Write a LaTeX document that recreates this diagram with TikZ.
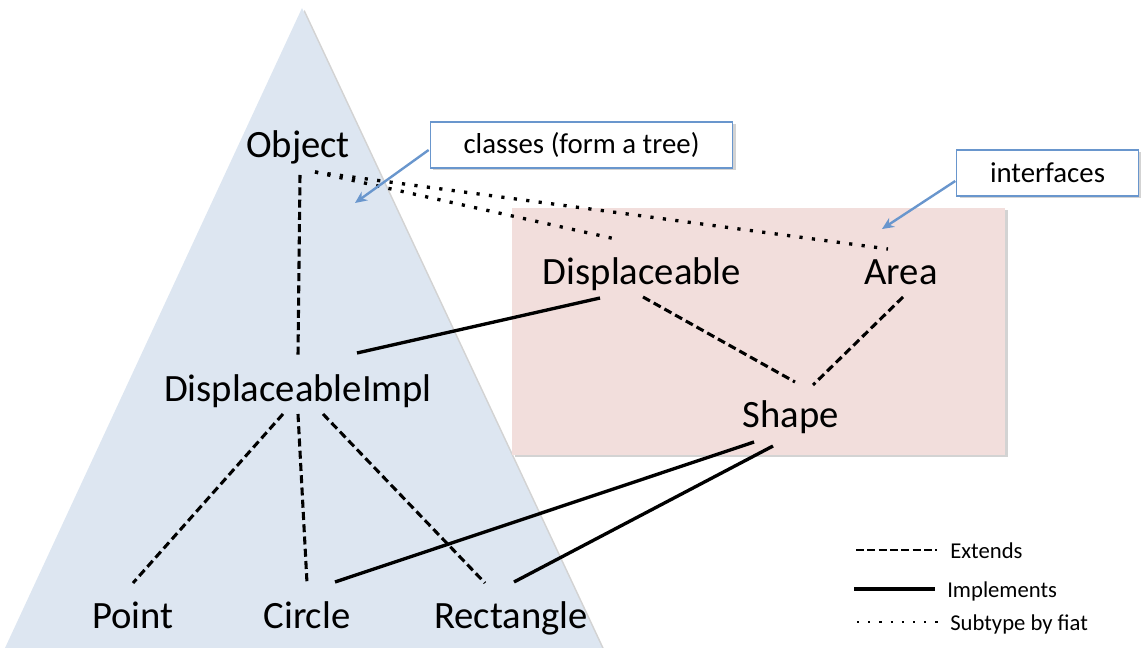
\documentclass[tikz,border=0pt]{standalone}
\usepackage{fontspec}
\setmainfont{Carlito}
\usetikzlibrary{shadows,calc,arrows.meta}
\definecolor{triblue}{RGB}{221,230,241}
\definecolor{pinkbg}{RGB}{242,222,220}
\definecolor{callblue}{RGB}{105,150,205}
\begin{document}
\begin{tikzpicture}[x=0.75pt,y=-0.75pt,
  lbl/.style={font=\fontsize{29}{33}\selectfont, inner sep=0pt, anchor=base},
  leg/.style={font=\fontsize{17}{20}\selectfont, inner sep=0pt, anchor=base west},
  ext/.style={line width=2.3pt, dash pattern=on 6pt off 3.2pt},
  impl/.style={line width=2.5pt},
  fiat/.style={line width=2.5pt, dash pattern=on 2.4pt off 7pt},
  shad/.style={drop shadow={shadow xshift=2pt, shadow yshift=-1.5pt, opacity=0.35}},
  callout/.style={draw=callblue, fill=white, line width=0.8pt, minimum height=34.5pt,
    inner sep=0pt, font=\fontsize{21.6}{25}\selectfont, shad},
  callarrow/.style={draw=callblue, line width=1.8pt, -{Stealth[length=9pt,width=8pt]}}]
\useasboundingbox (0,0) rectangle (1146,648);
% backgrounds
\path[fill=triblue, shad] (302,8) -- (602,648) -- (5,648) -- cycle;
\path[fill=pinkbg, shad] (512,208) rectangle (1005,455);
% nodes
\node[lbl] (obj) at (298,158) {Object};
\node[lbl] (disp) at (642,285) {Displaceable};
\node[lbl] (area) at (901,285) {Area};
\node[lbl] (di) at (298,402) {DisplaceableImpl};
\node[lbl] (shape) at (791,428) {Shape};
\node[lbl] (point) at (133,628) {Point};
\node[lbl] (circle) at (307,628) {Circle};
\node[lbl] (rect) at (511,628) {Rectangle};
% edges
\draw[ext] ($(obj.base)+(2,17)$) -- ($(di.base)+(0,-47)$);
\draw[fiat] ($(obj.base)+(17,14)$) -- ($(disp.base)+(-22,-45)$);
\draw[fiat] ($(obj.base)+(17,14)$) -- ($(area.base)+(-13,-36)$);
\draw[impl] ($(disp.base)+(-42,13)$) -- ($(di.base)+(59,-49)$);
\draw[ext] ($(disp.base)+(1,12)$) -- ($(shape.base)+(4,-46)$);
\draw[ext] ($(area.base)+(2,12)$) -- ($(shape.base)+(22,-43)$);
\draw[ext] ($(di.base)+(-15,12)$) -- ($(point.base)+(0,-45)$);
\draw[ext] ($(di.base)+(0,12)$) -- ($(circle.base)+(0,-45)$);
\draw[ext] ($(di.base)+(25,12)$) -- ($(rect.base)+(-26,-45)$);
\draw[impl] ($(shape.base)+(-37,14)$) -- ($(circle.base)+(28,-46)$);
\draw[impl] ($(shape.base)+(-18,18)$) -- ($(rect.base)+(3,-46)$);
% callouts
\node[callout, minimum width=227pt] (c1) at (581.5,145) {classes (form a tree)};
\node[callout, minimum width=136pt] (c2) at (1047.5,173) {interfaces};
\coordinate (t1) at (355,203);
\coordinate (t2) at (882,229);
\draw[callarrow] ($(c1.west)+(-1,5)$) -- (t1);
\draw[callarrow] ($(c2.west)+(-1,8)$) -- (t2);
% legend
\node[leg] (lext) at (950,558) {Extends};
\node[leg] (limpl) at (947,597) {Implements};
\node[leg] (lfiat) at (950,630) {Subtype by fiat};
\coordinate (le) at (856,550);
\coordinate (li) at (854,589);
\coordinate (lf) at (857,622);
\draw[ext, line width=1.9pt, dash pattern=on 6pt off 2.5pt] (le) -- ($(lext.base west)+(-13,-8)$);
\draw[impl, line width=2.3pt] (li) -- ($(limpl.base west)+(-12,-8)$);
\draw[fiat, line width=1.6pt, dash pattern=on 1.6pt off 6.8pt] (lf) -- ($(lfiat.base west)+(-11,-8)$);
\end{tikzpicture}
\end{document}
